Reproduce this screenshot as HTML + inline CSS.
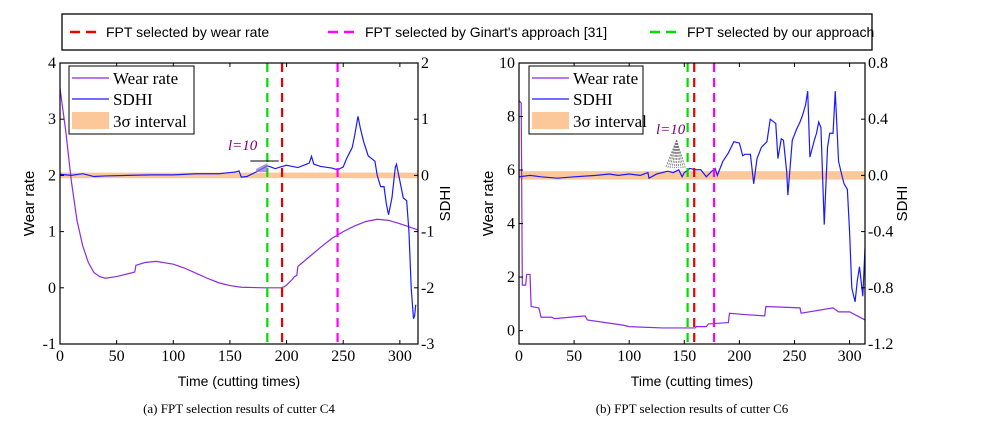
<!DOCTYPE html>
<html><head><meta charset="utf-8">
<style>
body{margin:0;background:#fff;}
svg{display:block;font-family:"Liberation Serif",serif;}
.s{font-family:"Liberation Sans",sans-serif;}
</style></head>
<body>
<svg id="c" width="993" height="426" viewBox="0 0 993 426">
  <g>
    <rect x="62" y="14" width="810" height="36" fill="#fff" stroke="#000" stroke-width="1.3"/>
    <line x1="70" y1="32" x2="98" y2="32" stroke="#e00" stroke-width="2.5" stroke-dasharray="10,6"/>
    <text class="s" x="106" y="37" font-size="14">FPT selected by wear rate</text>
    <line x1="328" y1="32" x2="358" y2="32" stroke="#f0f" stroke-width="2.5" stroke-dasharray="10,6"/>
    <text class="s" x="365" y="37" font-size="14">FPT selected by Ginart's approach [31]</text>
    <line x1="650" y1="32" x2="680" y2="32" stroke="#0d0" stroke-width="2.5" stroke-dasharray="10,6"/>
    <text class="s" x="687" y="37" font-size="14">FPT selected by our approach</text>
  </g>
  <g id="pa"></g>
  <g id="pb"></g>
</svg>
<script>
// ---- Chart (a) C4 data ----
const aWearX=[0,5,10,15,20,25,30,35,40,50,60,66,67,75,85,100,110,120,130,140,150,160,180,195,198,200,205,207,209,210,220,230,240,250,260,270,280,290,300,316];
const aWearY=[3.55,2.8,1.9,1.2,0.75,0.45,0.27,0.2,0.17,0.2,0.25,0.28,0.4,0.45,0.47,0.42,0.35,0.26,0.17,0.09,0.04,0.01,0,0,0.02,0.05,0.15,0.2,0.22,0.38,0.55,0.72,0.88,1.0,1.1,1.18,1.22,1.2,1.14,1.03];
const aSdhiX=[0,10,20,30,40,60,80,100,120,140,150,155,158,160,165,170,175,183,186,190,196,200,205,210,215,220,222,224,230,240,245,250,253,255,258,260,263,265,268,272,275,278,280,283,286,288,290,293,296,297,300,303,306,308,310,312,313,314];
const aSdhiY=[0.02,0.0,0.03,-0.02,-0.01,0.0,0.01,0.01,0.03,0.03,0.05,0.06,0.08,-0.03,-0.02,0.03,0.08,0.17,0.15,0.12,0.16,0.18,0.16,0.14,0.18,0.22,0.34,0.2,0.16,0.13,0.1,0.15,0.3,0.38,0.5,0.7,1.05,0.85,0.6,0.35,0.3,0.25,0.0,-0.2,-0.2,-0.5,-0.7,-0.4,0.15,0.2,-0.1,-0.4,-0.45,-1.0,-2.0,-2.55,-2.5,-2.3];
const aVlines=[183,196,245];
const aXTicks=[0,50,100,150,200,250,300];
const aYTicks=[-1,0,1,2,3,4];
const aY2Ticks=[-3,-2,-1,0,1,2];
// ---- Chart (b) C6 data ----
const bWearX=[0,2,3,6,7,10,11,18,20,30,32,60,62,95,100,130,160,161,170,172,190,191,205,223,224,255,256,285,290,300,314];
const bWearY=[8.6,8.5,1.7,1.7,2.1,2.1,0.9,0.85,0.5,0.5,0.45,0.55,0.4,0.2,0.15,0.1,0.1,0.15,0.15,0.25,0.3,0.65,0.6,0.55,0.9,0.85,0.65,0.85,0.7,0.7,0.4];
const bSdhiX=[0,10,20,35,50,70,82,90,100,110,117,118,125,135,140,145,148,150,155,160,165,170,175,178,180,185,190,195,200,203,205,210,213,216,220,225,228,233,235,238,240,243,244,248,252,255,257,260,262,264,268,270,272,274,277,280,282,285,287,290,293,295,298,300,302,305,307,309,312,314];
const bSdhiY=[-0.01,0.0,-0.01,-0.02,-0.01,0.0,0.01,0.0,0.01,0.0,0.02,-0.02,0.01,0.03,0.02,0.04,-0.01,0.02,0.05,0.04,0.04,-0.01,0.03,0.05,0.0,0.1,0.16,0.24,0.23,0.14,0.15,0.15,-0.06,0.12,0.2,0.24,0.4,0.37,0.12,0.26,0.25,0.02,-0.14,0.25,0.33,0.38,0.42,0.5,0.6,0.13,0.25,0.3,0.38,0.34,-0.35,0.2,0.3,0.3,0.6,0.1,0.0,-0.06,-0.1,-0.4,-0.8,-0.9,-0.75,-0.65,-0.86,-0.52];
const bVlines=[153,159,177];
const bXTicks=[0,50,100,150,200,250,300];
const bYTicks=[0,2,4,6,8,10];
const bY2Ticks=["-1.2","-0.8","-0.4","0.0","0.4","0.8"];

const NS="http://www.w3.org/2000/svg";
function mk(p,t,a){const e=document.createElementNS(NS,t);for(const k in a)e.setAttribute(k,a[k]);p.appendChild(e);return e;}

function chart(g,o){
  const sx=v=>o.L+(v-o.xmin)/(o.xmax-o.xmin)*(o.R-o.L);
  const sy=v=>o.B-(v-o.ymin)/(o.ymax-o.ymin)*(o.B-o.T);
  const sy2=v=>o.B-(v-o.y2min)/(o.y2max-o.y2min)*(o.B-o.T);
  const band=mk(g,'rect',{x:o.L,y:sy2(o.band[1]),width:o.R-o.L,height:sy2(o.band[0])-sy2(o.band[1]),fill:'#fcc89a'});
  
  
  const w=mk(g,'polyline',{points:o.wx.map((x,i)=>sx(x)+','+sy(o.wy[i])).join(' '),fill:'none',stroke:'#8a2be2','stroke-width':1.2});
  
  
  const s=mk(g,'polyline',{points:o.sx.map((x,i)=>sx(x)+','+sy2(o.sy[i])).join(' '),fill:'none',stroke:'#1a1aff','stroke-width':1.2});
  
  
  const cols=['#00dd00','#ee0000','#ff00ff'];
  o.vl.forEach((v,i)=>{const l=mk(g,'line',{x1:sx(v),x2:sx(v),y1:o.T,y2:o.B,stroke:cols[i],'stroke-width':2.2,'stroke-dasharray':'9,6'});
    
    });
  mk(g,'rect',{x:o.L,y:o.T,width:o.R-o.L,height:o.B-o.T,fill:'none',stroke:'#000','stroke-width':1.2});
  o.xt.forEach(v=>{mk(g,'line',{x1:sx(v),x2:sx(v),y1:o.B,y2:o.B-4,stroke:'#000'});mk(g,'line',{x1:sx(v),x2:sx(v),y1:o.T,y2:o.T+4,stroke:'#000'});
    const t=mk(g,'text',{x:sx(v),y:o.B+17,'text-anchor':'middle','font-size':16});t.textContent=v;
    
    });
  o.yt.forEach(v=>{mk(g,'line',{x1:o.L,x2:o.L+4,y1:sy(v),y2:sy(v),stroke:'#000'});
    const t=mk(g,'text',{x:o.L-4,y:sy(v)+5,'text-anchor':'end','font-size':16});t.textContent=v;
    
    });
  o.y2t.forEach(v=>{mk(g,'line',{x1:o.R,x2:o.R-4,y1:sy2(+v),y2:sy2(+v),stroke:'#000'});
    const t=mk(g,'text',{x:o.R+3,y:sy2(+v)+5,'font-size':16});t.textContent=v;
    
    });
  const yl=mk(g,'text',{class:'s',x:0,y:0,'font-size':15,'text-anchor':'middle',transform:`translate(${o.L-o.ylOff},${(o.T+o.B)/2}) rotate(-90)`});yl.textContent='Wear rate';
  
  
  const y2=mk(g,'text',{class:'s',x:0,y:0,'font-size':15,'text-anchor':'middle',transform:`translate(${o.R+o.y2Off},${(o.T+o.B)/2}) rotate(-90)`});y2.textContent='SDHI';
  
  
  const xl=mk(g,'text',{class:'s',x:(o.L+o.R)/2,y:386,'font-size':14,'text-anchor':'middle'});xl.textContent='Time (cutting times)';
  
  
  const cap=mk(g,'text',{x:(o.L+o.R)/2,y:413,'font-size':13,'text-anchor':'middle'});cap.textContent=o.cap;
  
  
  const lx=o.L+o.lg, ly=o.T+3;
  mk(g,'rect',{x:lx,y:ly,width:o.lw,height:68,fill:'#fff',stroke:'#000','stroke-width':1});
  mk(g,'line',{x1:lx+3,x2:lx+40,y1:ly+12,y2:ly+12,stroke:'#8a2be2','stroke-width':1.2});
  mk(g,'line',{x1:lx+3,x2:lx+40,y1:ly+33,y2:ly+33,stroke:'#1a1aff','stroke-width':1.2});
  mk(g,'rect',{x:lx+3,y:ly+46,width:37,height:17,fill:'#fcc89a'});
  [['Wear rate',18],['SDHI',39],['3σ interval',61]].forEach(a=>{const t=mk(g,'text',{x:lx+44,y:ly+a[1],'font-size':17});t.textContent=a[0];
    
    });
  return {sx,sy,sy2};
}
const A=chart(document.getElementById('pa'),{L:60,R:418,T:63,B:344,xmin:0,xmax:316,ymin:-1,ymax:4,y2min:-3,y2max:2,band:[-0.05,0.05],
  wx:aWearX,wy:aWearY,sx:aSdhiX,sy:aSdhiY,vl:aVlines,xt:aXTicks,yt:aYTicks,y2t:aY2Ticks,ylOff:26,y2Off:32,cap:'(a) FPT selection results of cutter C4',lg:9,lw:125});
const B=chart(document.getElementById('pb'),{L:519,R:865,T:63,B:344,xmin:0,xmax:314,ymin:-0.5,ymax:10,y2min:-1.2,y2max:0.8,band:[-0.03,0.03],
  wx:bWearX,wy:bWearY,sx:bSdhiX,sy:bSdhiY,vl:bVlines,xt:bXTicks,yt:bYTicks,y2t:bY2Ticks,ylOff:26,y2Off:42,cap:'(b) FPT selection results of cutter C6',lg:10,lw:114});
const pa=document.getElementById('pa');
let t=mk(pa,'text',{x:228,y:150,'font-size':15,fill:'#800080','font-style':'italic'});t.textContent='l=10';


mk(pa,'line',{x1:A.sx(168),x2:A.sx(193),y1:161,y2:161,stroke:'#000','stroke-width':1});
mk(pa,'polygon',{points:`${A.sx(173)},169 ${A.sx(183)},163 ${A.sx(183)},172 ${A.sx(173)},172`,fill:'#8a6fd0',opacity:0.7});
const pb=document.getElementById('pb');
t=mk(pb,'text',{x:656,y:134,'font-size':15,fill:'#800080','font-style':'italic'});t.textContent='l=10';


for(let x=133;x<=151;x+=2){mk(pb,'line',{x1:B.sx(143),y1:140,x2:B.sx(x),y2:168,stroke:'#777','stroke-width':0.8,'stroke-dasharray':'2,1'});}
</script>
</body></html>
